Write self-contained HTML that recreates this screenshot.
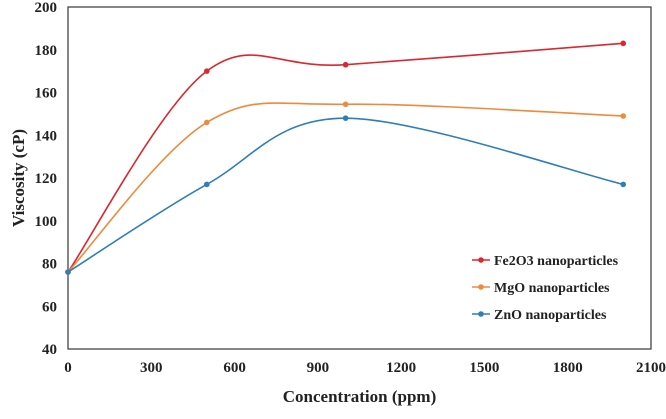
<!DOCTYPE html>
<html><head><meta charset="utf-8"><style>
body{margin:0;background:#fff;}
svg text{font-family:"Liberation Serif",serif;font-weight:bold;fill:#222;}
</style></head><body>
<svg id="c" width="666" height="414"></svg>
<script>
const xValues=[0,500,1000,2000];
const seriesNames=["Fe2O3 nanoparticles","MgO nanoparticles","ZnO nanoparticles"];
const fe2o3=[76,170,173,183];
const mgo=[76,146,154.5,149];
const zno=[76,117,148,117];
const colors=["#d9282f","#ee8a3c","#2e7fb8"];
const xTicks=[0,300,600,900,1200,1500,1800,2100];
const yTicks=[40,60,80,100,120,140,160,180,200];
const L=68,R=651,T=7,B=349;
const sx=v=>L+(v-0)/2100*(R-L);
const sy=v=>B-(v-40)/160*(B-T);
const svg=document.getElementById('c');
const NS='http://www.w3.org/2000/svg';
function mk(tag,attrs,text){const e=document.createElementNS(NS,tag);for(const k in attrs)e.setAttribute(k,attrs[k]);if(text!==undefined)e.textContent=text;svg.appendChild(e);return e;}
yTicks.forEach(t=>{
 const e=mk('text',{x:L-11,y:sy(t)+5,'text-anchor':'end','font-size':15},t);
 
 
});
xTicks.forEach(t=>{
 const e=mk('text',{x:sx(t),y:B+23,'text-anchor':'middle','font-size':15},t);
 
 
});
const box=mk('rect',{x:L,y:T,width:R-L,height:B-T,fill:'none',stroke:'#444','stroke-width':1.3});


const yt=mk('text',{x:0,y:0,'text-anchor':'middle','font-size':17,transform:`translate(24,${(T+B)/2}) rotate(-90)`},'Viscosity (cP)');


const xt=mk('text',{x:(L+R)/2,y:402,'text-anchor':'middle','font-size':17},'Concentration (ppm)');


function path(vals){
 const p=xValues.map((x,i)=>[sx(x),sy(vals[i])]);
 let d=`M${p[0][0]},${p[0][1]}`;const t=0.5/3*2;
 for(let i=0;i<p.length-1;i++){
  const p0=p[i-1]||p[i],p1=p[i],p2=p[i+1],p3=p[i+2]||p[i+1];
  const c1=[p1[0]+(p2[0]-p0[0])*t/2,p1[1]+(p2[1]-p0[1])*t/2];
  const c2=[p2[0]-(p3[0]-p1[0])*t/2,p2[1]-(p3[1]-p1[1])*t/2];
  d+=` C${c1[0]},${c1[1]} ${c2[0]},${c2[1]} ${p2[0]},${p2[1]}`;
 }
 return d;
}
[fe2o3,mgo,zno].forEach((vals,k)=>{
 const l=mk('path',{d:path(vals),fill:'none',stroke:colors[k],'stroke-width':1.6});
 
 
 vals.forEach((v,i)=>{
  const c=mk('circle',{cx:sx(xValues[i]),cy:sy(v),r:2.8,fill:colors[k]});
  
  
 });
 const ly=260+k*27;
 const ll=mk('line',{x1:472,x2:490,y1:ly,y2:ly,stroke:colors[k],'stroke-width':1.6});
 
 
 const lc=mk('circle',{cx:481,cy:ly,r:2.8,fill:colors[k]});
 
 
 const lt=mk('text',{x:494,y:ly+5,'font-size':14},seriesNames[k]);
 
 
});
</script>
</body></html>
